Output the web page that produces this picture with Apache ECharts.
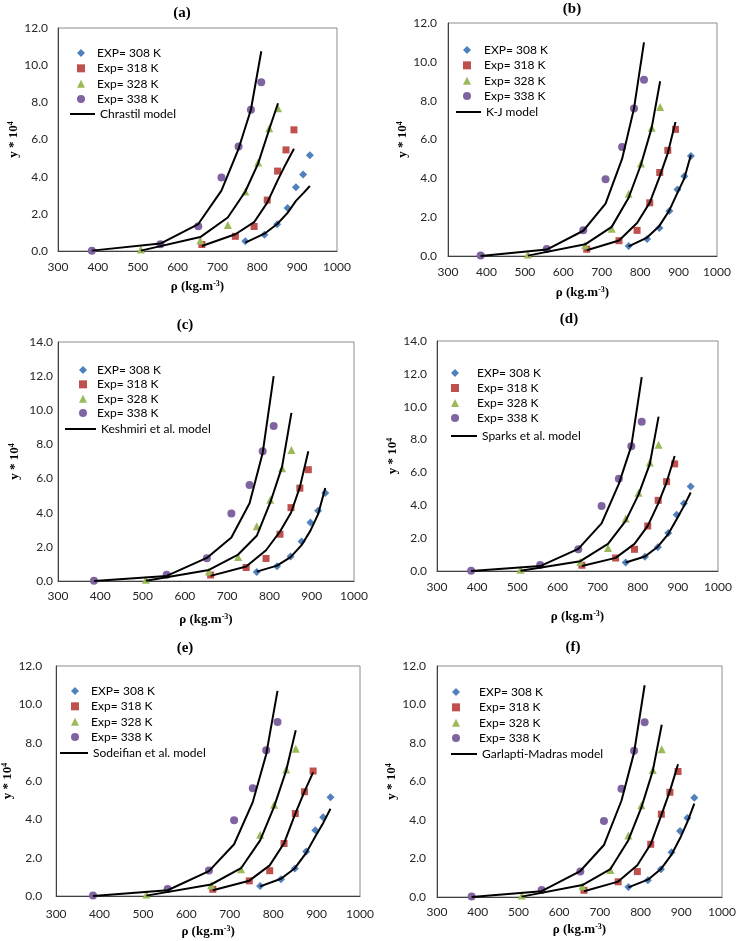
<!DOCTYPE html>
<html><head><meta charset="utf-8">
<script src="https://cdn.jsdelivr.net/npm/echarts@6/dist/echarts.min.js"></script>
<style>html,body{margin:0;padding:0;background:#fff}#c{width:739px;height:941px}</style>
</head><body><div id="c"></div>
<script>
// ---------------- DATA ----------------
const panelLabels = ['(a)','(b)','(c)','(d)','(e)','(f)'];
const modelNames = ['Chrastil model','K-J model','Keshmiri et al. model','Sparks et al. model','Sodeifian et al. model','Garlapti-Madras model'];
const expNames = ['EXP= 308 K','Exp= 318 K','Exp= 328 K','Exp= 338 K'];
const xTicks = [300,400,500,600,700,800,900,1000];

// densities (kg/m3) for each isotherm
const rho308 = [770,818,850,876,897,915,932];
const rho318 = [661,745,792,825,851,872,892];
const rho328 = [508,657,726,770,802,830,852];
const rho338 = [385,557,652,710,753,784,810];

// experimental y*10^4
const exp308 = [0.52,0.87,1.44,2.32,3.43,4.11,5.15];
const exp318 = [0.35,0.79,1.32,2.74,4.30,5.44,6.52];
const exp328 = [0.08,0.56,1.40,3.20,4.76,6.60,7.68];
const exp338 = [0.02,0.36,1.33,3.95,5.62,7.60,9.08];

// model curves
const chrastil308 = [0.45,0.93,1.45,2.05,2.70,3.10,3.50];
const chrastil318 = [0.27,0.90,1.55,2.60,3.80,4.70,5.50];
const chrastil328 = [0.02,0.75,1.80,3.20,4.70,6.55,7.95];
const chrastil338 = [0.02,0.40,1.45,3.25,5.50,7.60,10.75];

const kj308 = [0.50,0.95,1.55,2.35,3.25,4.00,5.20];
const kj318 = [0.30,0.80,1.70,2.75,4.10,5.30,6.90];
const kj328 = [0.02,0.60,1.50,3.00,4.70,6.60,9.00];
const kj338 = [0.00,0.33,1.30,2.70,5.00,7.60,11.00];

const keshmiri308 = [0.55,0.90,1.40,2.10,2.95,3.90,5.45];
const keshmiri318 = [0.30,0.85,1.80,2.90,4.00,5.50,7.60];
const keshmiri328 = [0.02,0.65,1.55,2.65,4.60,6.70,9.85];
const keshmiri338 = [0.00,0.30,1.35,2.55,4.55,7.50,12.00];

const sparks308 = [0.52,0.88,1.48,2.25,3.15,3.95,4.78];
const sparks318 = [0.30,0.80,1.65,2.75,4.10,5.40,7.00];
const sparks328 = [0.02,0.60,1.65,3.05,4.65,6.50,9.40];
const sparks338 = [0.00,0.30,1.35,2.90,5.30,7.60,11.80];

const sodeifian308 = [0.50,0.90,1.45,2.25,3.10,3.80,4.55];
const sodeifian318 = [0.30,0.80,1.60,2.75,4.30,5.45,6.45];
const sodeifian328 = [0.02,0.60,1.45,2.90,4.65,6.55,8.65];
const sodeifian338 = [0.00,0.30,1.30,2.70,4.90,7.40,10.70];

const gm308 = [0.50,0.90,1.45,2.20,3.05,3.90,4.85];
const gm318 = [0.30,0.80,1.65,2.75,4.25,5.50,6.90];
const gm328 = [0.02,0.62,1.45,2.95,4.65,6.55,8.95];
const gm338 = [0.00,0.30,1.35,2.70,5.00,7.50,11.00];

const yMaxes = [12,12,14,14,12,12];

// ---------------- LAYOUT / STYLE ----------------
const rhos = [rho308,rho318,rho328,rho338];
const exps = [exp308,exp318,exp328,exp338];
const models = [
  [chrastil308,chrastil318,chrastil328,chrastil338],
  [kj308,kj318,kj328,kj338],
  [keshmiri308,keshmiri318,keshmiri328,keshmiri338],
  [sparks308,sparks318,sparks328,sparks338],
  [sodeifian308,sodeifian318,sodeifian328,sodeifian338],
  [gm308,gm318,gm328,gm338]
];
const layout = [
  {grid:{left:58,top:28,width:279,height:223}, title:[182,13], xg:29, yg:31, ylm:10, xlm:10, leg:{mx:81,tx:97,lx0:70,lx1:95,ys:[53,68,83,99,114]}},
  {grid:{left:448,top:23,width:269,height:233}, title:[572,9], xg:30, yg:30, ylm:11, xlm:10, leg:{mx:467,tx:484,lx0:456,lx1:481,ys:[50,65,80,96,112]}},
  {grid:{left:58,top:342,width:296,height:239}, title:[185,325], xg:32, yg:36, ylm:5, xlm:9, leg:{mx:83,tx:97,lx0:65,lx1:96,ys:[370,384,398,413,429]}},
  {grid:{left:437,top:341,width:281,height:230}, title:[569,319], xg:39, yg:23, ylm:10, xlm:10, leg:{mx:455,tx:477,lx0:451,lx1:477,ys:[373,388,403,418,436]}},
  {grid:{left:52,top:666,width:308,height:230}, title:[185,648], xg:29, yg:35, ylm:14, xlm:12, leg:{mx:75,tx:91,lx0:60,lx1:88,ys:[691,707,722,737,753]}},
  {grid:{left:437,top:666,width:285,height:231}, title:[573,647], xg:26, yg:32, ylm:11, xlm:9, leg:{mx:456,tx:479,lx0:451,lx1:477,ys:[692,707,723,738,754]}}
];
const symbols = ['diamond','rect','triangle','circle'];
const symSizes = [8,7,8,8];
const colors = ['#4F81BD','#C0504D','#9BBB59','#8064A2'];
const serif = 'Liberation Serif';
const sans = 'Lato';
const legFont = 12;
const nameRich = {sup:{fontSize:8, fontFamily:serif, fontWeight:'bold', color:'#000', verticalAlign:'top', padding:[0,0,6,0]}};

const option = {animation:false, backgroundColor:'#fff', grid:[], xAxis:[], yAxis:[], series:[], legend:[], graphic:[]};

layout.forEach((L,p)=>{
  option.grid.push(Object.assign({show:true, borderColor:'#8c8c8c', borderWidth:1, backgroundColor:'#fff', containLabel:false}, L.grid));
  option.xAxis.push({
    gridIndex:p, type:'value', min:xTicks[0], max:xTicks[xTicks.length-1], interval:100,
    axisLine:{show:true, onZero:false, lineStyle:{color:'#404040', width:1}},
    axisTick:{show:false}, splitLine:{show:false},
    axisLabel:{margin:L.xlm, fontFamily:sans, fontSize:12, color:'#262626', formatter:v=>String(v)},
    name:'ρ (kg.m{sup|-3})', nameLocation:'middle', nameGap:L.xg,
    nameTextStyle:{fontFamily:serif, fontWeight:'bold', fontSize:13, color:'#000', rich:nameRich}
  });
  option.yAxis.push({
    gridIndex:p, type:'value', min:0, max:yMaxes[p], interval:2,
    axisLine:{show:true, onZero:false, lineStyle:{color:'#404040', width:1}},
    axisTick:{show:false}, splitLine:{show:false},
    axisLabel:{margin:L.ylm, fontFamily:sans, fontSize:12, color:'#262626', formatter:v=>v.toFixed(1)},
    name:'y * 10{sup|4}', nameLocation:'middle', nameGap:L.yg,
    nameTextStyle:{fontFamily:serif, fontWeight:'bold', fontSize:13, color:'#000', rich:nameRich}
  });
  for (let k=0;k<4;k++){
    option.series.push({
      type:'scatter', name:expNames[k], xAxisIndex:p, yAxisIndex:p,
      symbol:symbols[k], symbolSize:symSizes[k], itemStyle:{color:colors[k], opacity:1}, z:2,
      data: rhos[k].map((x,i)=>[x, exps[k][i]])
    });
  }
  for (let k=0;k<4;k++){
    option.series.push({
      type:'line', name:modelNames[p], xAxisIndex:p, yAxisIndex:p,
      symbol:'none', showSymbol:false, lineStyle:{color:'#000', width:2}, itemStyle:{color:'#000'}, z:3,
      data: rhos[k].map((x,i)=>[x, models[p][k][i]])
    });
  }
  const g = L.leg;
  const step = (g.ys[3]-g.ys[0])/3;
  option.legend.push({
    orient:'vertical', left:g.mx - 4, top:g.ys[0]-legFont/2, padding:0,
    itemWidth:8, itemHeight:8, itemGap:step-legFont, selectedMode:false,
    data:expNames.map((n,k)=>({name:n, icon:symbols[k], itemStyle:{color:colors[k]}})),
    textStyle:{fontFamily:sans, fontSize:legFont, color:'#000', lineHeight:legFont, padding:[0,0,0,Math.max(0,g.tx-(g.mx+4)-5)]}
  });
  option.legend.push({
    orient:'vertical', left:g.lx0, top:g.ys[4]-legFont/2, padding:0,
    itemWidth:g.lx1-g.lx0, itemHeight:2, selectedMode:false,
    data:[{name:modelNames[p], icon:'rect', itemStyle:{color:'#000'}}],
    textStyle:{fontFamily:sans, fontSize:legFont, color:'#000', lineHeight:legFont}
  });
  option.graphic.push({
    type:'text', x:L.title[0], y:L.title[1],
    style:{text:panelLabels[p], font:'bold 15px "Liberation Serif"', fill:'#000', align:'center', verticalAlign:'middle'}
  });
});

const chart = echarts.init(document.getElementById('c'), null, {renderer:'canvas'});
chart.setOption(option);
</script></body></html>
